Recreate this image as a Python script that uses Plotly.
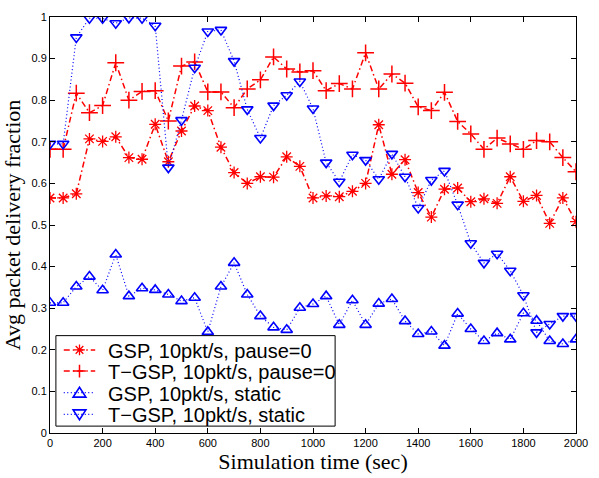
import plotly.graph_objects as go

times = list(range(0, 2001, 50))

gsp_pause0 = [0.565, 0.565, 0.575, 0.707, 0.701, 0.712, 0.662, 0.658, 0.742, 0.652,
              0.726, 0.786, 0.775, 0.687, 0.626, 0.600, 0.616, 0.615, 0.664, 0.641,
              0.565, 0.570, 0.568, 0.581, 0.600, 0.741, 0.622, 0.657, 0.578, 0.519,
              0.586, 0.589, 0.556, 0.563, 0.552, 0.616, 0.557, 0.571, 0.504, 0.565,
              0.508]

tgsp_pause0 = [0.682, 0.682, 0.817, 0.770, 0.787, 0.890, 0.800, 0.821, 0.823, 0.750,
               0.882, 0.892, 0.820, 0.820, 0.782, 0.827, 0.849, 0.904, 0.875, 0.868,
               0.871, 0.823, 0.840, 0.827, 0.914, 0.827, 0.863, 0.841, 0.784, 0.775,
               0.819, 0.749, 0.719, 0.682, 0.709, 0.695, 0.682, 0.703, 0.700, 0.662,
               0.628]

gsp_static = [0.313, 0.313, 0.352, 0.376, 0.343, 0.429, 0.329, 0.348, 0.344, 0.333,
              0.317, 0.325, 0.243, 0.352, 0.409, 0.333, 0.281, 0.254, 0.248, 0.301,
              0.310, 0.329, 0.260, 0.319, 0.260, 0.311, 0.322, 0.269, 0.238, 0.244,
              0.210, 0.287, 0.250, 0.221, 0.240, 0.225, 0.288, 0.270, 0.221, 0.214,
              0.225]

tgsp_static = [0.695, 0.695, 0.951, 0.997, 0.997, 0.985, 0.998, 0.997, 0.979, 0.638,
               0.752, 0.878, 0.965, 0.969, 0.894, 0.778, 0.709, 0.787, 0.812, 0.845,
               0.780, 0.650, 0.604, 0.669, 0.656, 0.610, 0.671, 0.616, 0.541, 0.608,
               0.630, 0.549, 0.456, 0.409, 0.431, 0.390, 0.331, 0.242, 0.262, 0.281,
               0.281]

names = ["GSP, 10pkt/s, pause=0", "T\u2212GSP, 10pkt/s, pause=0",
         "GSP, 10pkt/s, static", "T\u2212GSP, 10pkt/s, static"]

RED_DASH = "6px,3px,1.5px,3px"
BLUE_DOT = "1px,2.5px"

styles = [
    dict(color="red", dash=RED_DASH, width=1.5, symbol="asterisk-open", size=10, mlw=1.3, kind="ast"),
    dict(color="red", dash=RED_DASH, width=1.5, symbol="cross-thin-open", size=12, mlw=1.5, kind="plus"),
    dict(color="blue", dash=BLUE_DOT, width=1.2, symbol="triangle-up-open", size=10, mlw=1.6, kind="tup"),
    dict(color="blue", dash=BLUE_DOT, width=1.2, symbol="triangle-down-open", size=10, mlw=1.6, kind="tdn"),
]
series = [gsp_pause0, tgsp_pause0, gsp_static, tgsp_static]

fig = go.Figure()
for nm, ys, st in zip(names, series, styles):
    fig.add_trace(go.Scatter(
        x=times, y=ys, name=nm, mode="lines+markers", showlegend=False,
        line=dict(color=st["color"], width=st["width"], dash=st["dash"]),
        marker=dict(symbol=st["symbol"], size=st["size"],
                    line=dict(color=st["color"], width=st["mlw"]))))

W, H = 599, 478
ML, MR, MT, MB = 50, 14, 11, 44
PX0, PX1, PY0, PY1 = ML, W - MR, MT, H - MB


def px2x(px):
    return (px - PX0) / (PX1 - PX0)


def py2y(py):
    return (PY1 - py) / (PY1 - PY0)


def path_from(points_segments):
    parts = []
    for seg, closed in points_segments:
        s = "M " + " L ".join(f"{px2x(a):.5f},{py2y(b):.5f}" for a, b in seg)
        if closed:
            s += " Z"
        parts.append(s)
    return " ".join(parts)


def marker_path(kind, cx, cy):
    if kind == "ast":
        r, d = 5.5, 3.9
        segs = [([(cx - r, cy), (cx + r, cy)], False), ([(cx, cy - r), (cx, cy + r)], False),
                ([(cx - d, cy - d), (cx + d, cy + d)], False), ([(cx - d, cy + d), (cx + d, cy - d)], False)]
    elif kind == "plus":
        r = 6.5
        segs = [([(cx - r, cy), (cx + r, cy)], False), ([(cx, cy - r), (cx, cy + r)], False)]
    elif kind == "tup":
        segs = [([(cx - 6.5, cy + 4.5), (cx + 6.5, cy + 4.5), (cx, cy - 5.5)], True)]
    else:
        segs = [([(cx - 6.5, cy - 4.5), (cx + 6.5, cy - 4.5), (cx, cy + 5.5)], True)]
    return path_from(segs)


shapes = [dict(type="rect", xref="paper", yref="paper", layer="above",
               x0=px2x(56), x1=px2x(340), y0=py2y(427), y1=py2y(335),
               fillcolor="white", line=dict(color="black", width=1))]
annotations = []
rows = [349.5, 371, 393, 415]
for nm, st, ry in zip(names, styles, rows):
    shapes.append(dict(type="line", xref="paper", yref="paper", layer="above",
                       x0=px2x(64), x1=px2x(96), y0=py2y(ry), y1=py2y(ry),
                       line=dict(color=st["color"], width=st["width"], dash=st["dash"])))
    shapes.append(dict(type="path", xref="paper", yref="paper", layer="above",
                       path=marker_path(st["kind"], 80, ry),
                       line=dict(color=st["color"], width=st["mlw"])))
    annotations.append(dict(xref="paper", yref="paper", x=px2x(107), y=py2y(ry + 1),
                            xanchor="left", yanchor="middle", showarrow=False, text=nm,
                            font=dict(family="Liberation Sans", size=20, color="black")))

axis_common = dict(showline=True, linecolor="black", linewidth=1, mirror="ticks",
                   ticks="inside", ticklen=5, tickcolor="black", showgrid=False,
                   zeroline=False, tickfont=dict(family="Liberation Sans", size=11, color="black"))

fig.update_layout(
    width=W, height=H,
    margin=dict(l=ML, r=MR, t=MT, b=MB),
    paper_bgcolor="white", plot_bgcolor="white",
    xaxis=dict(range=[0, 2000], tickvals=list(range(0, 2001, 200)),
               title=dict(text="Simulation time (sec)", standoff=2,
                          font=dict(family="Liberation Serif", size=22, color="black")),
               **axis_common),
    yaxis=dict(range=[0, 1], tickvals=[i / 10 for i in range(11)],
               ticktext=["0", "0.1", "0.2", "0.3", "0.4", "0.5", "0.6", "0.7", "0.8", "0.9", "1"],
               title=dict(text="Avg packet delivery fraction", standoff=4,
                          font=dict(family="Liberation Serif", size=22, color="black")),
               **axis_common),
    shapes=shapes,
    annotations=annotations,
    showlegend=False,
)

fig.write_html("out.html")
